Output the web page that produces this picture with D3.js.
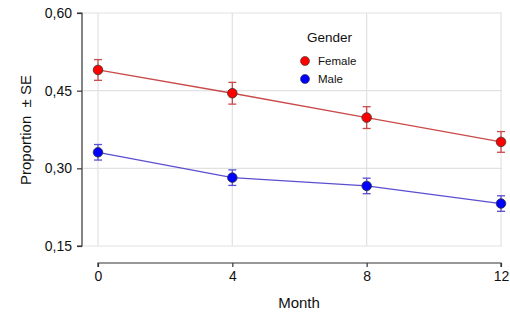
<!DOCTYPE html>
<html>
<head>
<meta charset="utf-8">
<script src="https://cdn.jsdelivr.net/npm/d3@7"></script>
<style>
  body { margin: 0; background: #fff; }
  text { font-family: "Liberation Sans", Arial, sans-serif; fill: #111; }
</style>
</head>
<body>
<script>
var width = 510,
    height = 320;

var months = [0, 4, 8, 12];
var yTicks = [0.15, 0.30, 0.45, 0.60];
var groups = ["Female", "Male"];
var femaleVals = [0.490, 0.445, 0.398, 0.351];
var femaleSE = [0.020, 0.021, 0.021, 0.020];
var maleVals = [0.331, 0.282, 0.266, 0.232];
var maleSE = [0.015, 0.015, 0.015, 0.015];

var lineColors = ["#c94a4a", "#5a4fd0"];
var dotColors = ["#ff0000", "#0000ff"];

var series = [
  { name: groups[0], vals: femaleVals, se: femaleSE },
  { name: groups[1], vals: maleVals, se: maleSE }
];

var xScale = d3.scaleLinear().domain([0, 12]).range([98, 501]);
var yScale = d3.scaleLinear().domain([0.15, 0.60]).range([246, 13]);

var svg = d3.select("body").append("svg")
  .attr("width", width)
  .attr("height", height);

// grid
svg.append("g").selectAll("line")
  .data(yTicks).enter().append("line")
  .attr("x1", 83).attr("x2", 502)
  .attr("y1", function(d) { return yScale(d); })
  .attr("y2", function(d) { return yScale(d); })
  .attr("stroke", "#e2e2e2").attr("stroke-width", 1.2);

svg.append("g").selectAll("line")
  .data(months).enter().append("line")
  .attr("x1", function(d) { return xScale(d); })
  .attr("x2", function(d) { return xScale(d); })
  .attr("y1", 13).attr("y2", 246)
  .attr("stroke", "#e2e2e2").attr("stroke-width", 1.2);

// axes
var fmt = function(d) { return d3.format(".2f")(d).replace(".", ","); };
var yAxis = d3.axisLeft(yScale).tickValues(yTicks).tickFormat(fmt).tickSize(5).tickPadding(5);
var xAxis = d3.axisBottom(xScale).tickValues(months).tickSize(4).tickPadding(4);

var gy = svg.append("g").attr("transform", "translate(82,0)").call(yAxis);
var gx = svg.append("g").attr("transform", "translate(0,263)").call(xAxis);
[gy, gx].forEach(function(g) {
  g.selectAll("path, line").attr("stroke", "#333").attr("stroke-width", 1.2);
  g.selectAll("text").attr("font-size", "14px").attr("fill", "#111")
    .attr("font-family", "Liberation Sans, Arial, sans-serif");
});
gy.select(".domain").attr("d", "M-5,13H0V246H-5");
gx.select(".domain").attr("d", "M98,4V0H501V4");

// labels
svg.append("text")
  .attr("x", 299).attr("y", 308)
  .attr("text-anchor", "middle").attr("font-size", "15px")
  .text("Month");

svg.append("text")
  .attr("transform", "translate(31,130) rotate(-90)")
  .attr("text-anchor", "middle").attr("font-size", "15px")
  .attr("xml:space", "preserve")
  .text("Proportion  \u00b1 SE");

// series
var line = d3.line()
  .x(function(d, i) { return xScale(months[i]); })
  .y(function(d) { return yScale(d); });

series.forEach(function(s, k) {
  var g = svg.append("g");
  g.append("path")
    .attr("d", line(s.vals))
    .attr("fill", "none")
    .attr("stroke", lineColors[k])
    .attr("stroke-width", 1.3);

  var eb = g.selectAll(".eb").data(s.vals).enter().append("g");
  eb.append("line")
    .attr("x1", function(d, i) { return xScale(months[i]); })
    .attr("x2", function(d, i) { return xScale(months[i]); })
    .attr("y1", function(d, i) { return yScale(d - s.se[i]); })
    .attr("y2", function(d, i) { return yScale(d + s.se[i]); })
    .attr("stroke", lineColors[k]).attr("stroke-width", 1.3);
  [-1, 1].forEach(function(sign) {
    eb.append("line")
      .attr("x1", function(d, i) { return xScale(months[i]) - 4; })
      .attr("x2", function(d, i) { return xScale(months[i]) + 4; })
      .attr("y1", function(d, i) { return yScale(d + sign * s.se[i]); })
      .attr("y2", function(d, i) { return yScale(d + sign * s.se[i]); })
      .attr("stroke", lineColors[k]).attr("stroke-width", 1.3);
  });

  g.selectAll("circle").data(s.vals).enter().append("circle")
    .attr("cx", function(d, i) { return xScale(months[i]); })
    .attr("cy", function(d) { return yScale(d); })
    .attr("r", 4.8)
    .attr("fill", dotColors[k])
    .attr("stroke", "#333").attr("stroke-width", 0.8);
});

// legend
svg.append("text")
  .attr("x", 307).attr("y", 42)
  .attr("font-size", "13.5px")
  .text("Gender");

var leg = svg.append("g").selectAll("g")
  .data(groups).enter().append("g")
  .attr("transform", function(d, i) { return "translate(305," + (61 + i * 18) + ")"; });
leg.append("circle")
  .attr("r", 4.5)
  .attr("fill", function(d, i) { return dotColors[i]; })
  .attr("stroke", "#333").attr("stroke-width", 0.6);
leg.append("text")
  .attr("x", 13).attr("y", 4)
  .attr("font-size", "11.5px")
  .text(function(d) { return d; });
</script>
</body>
</html>
